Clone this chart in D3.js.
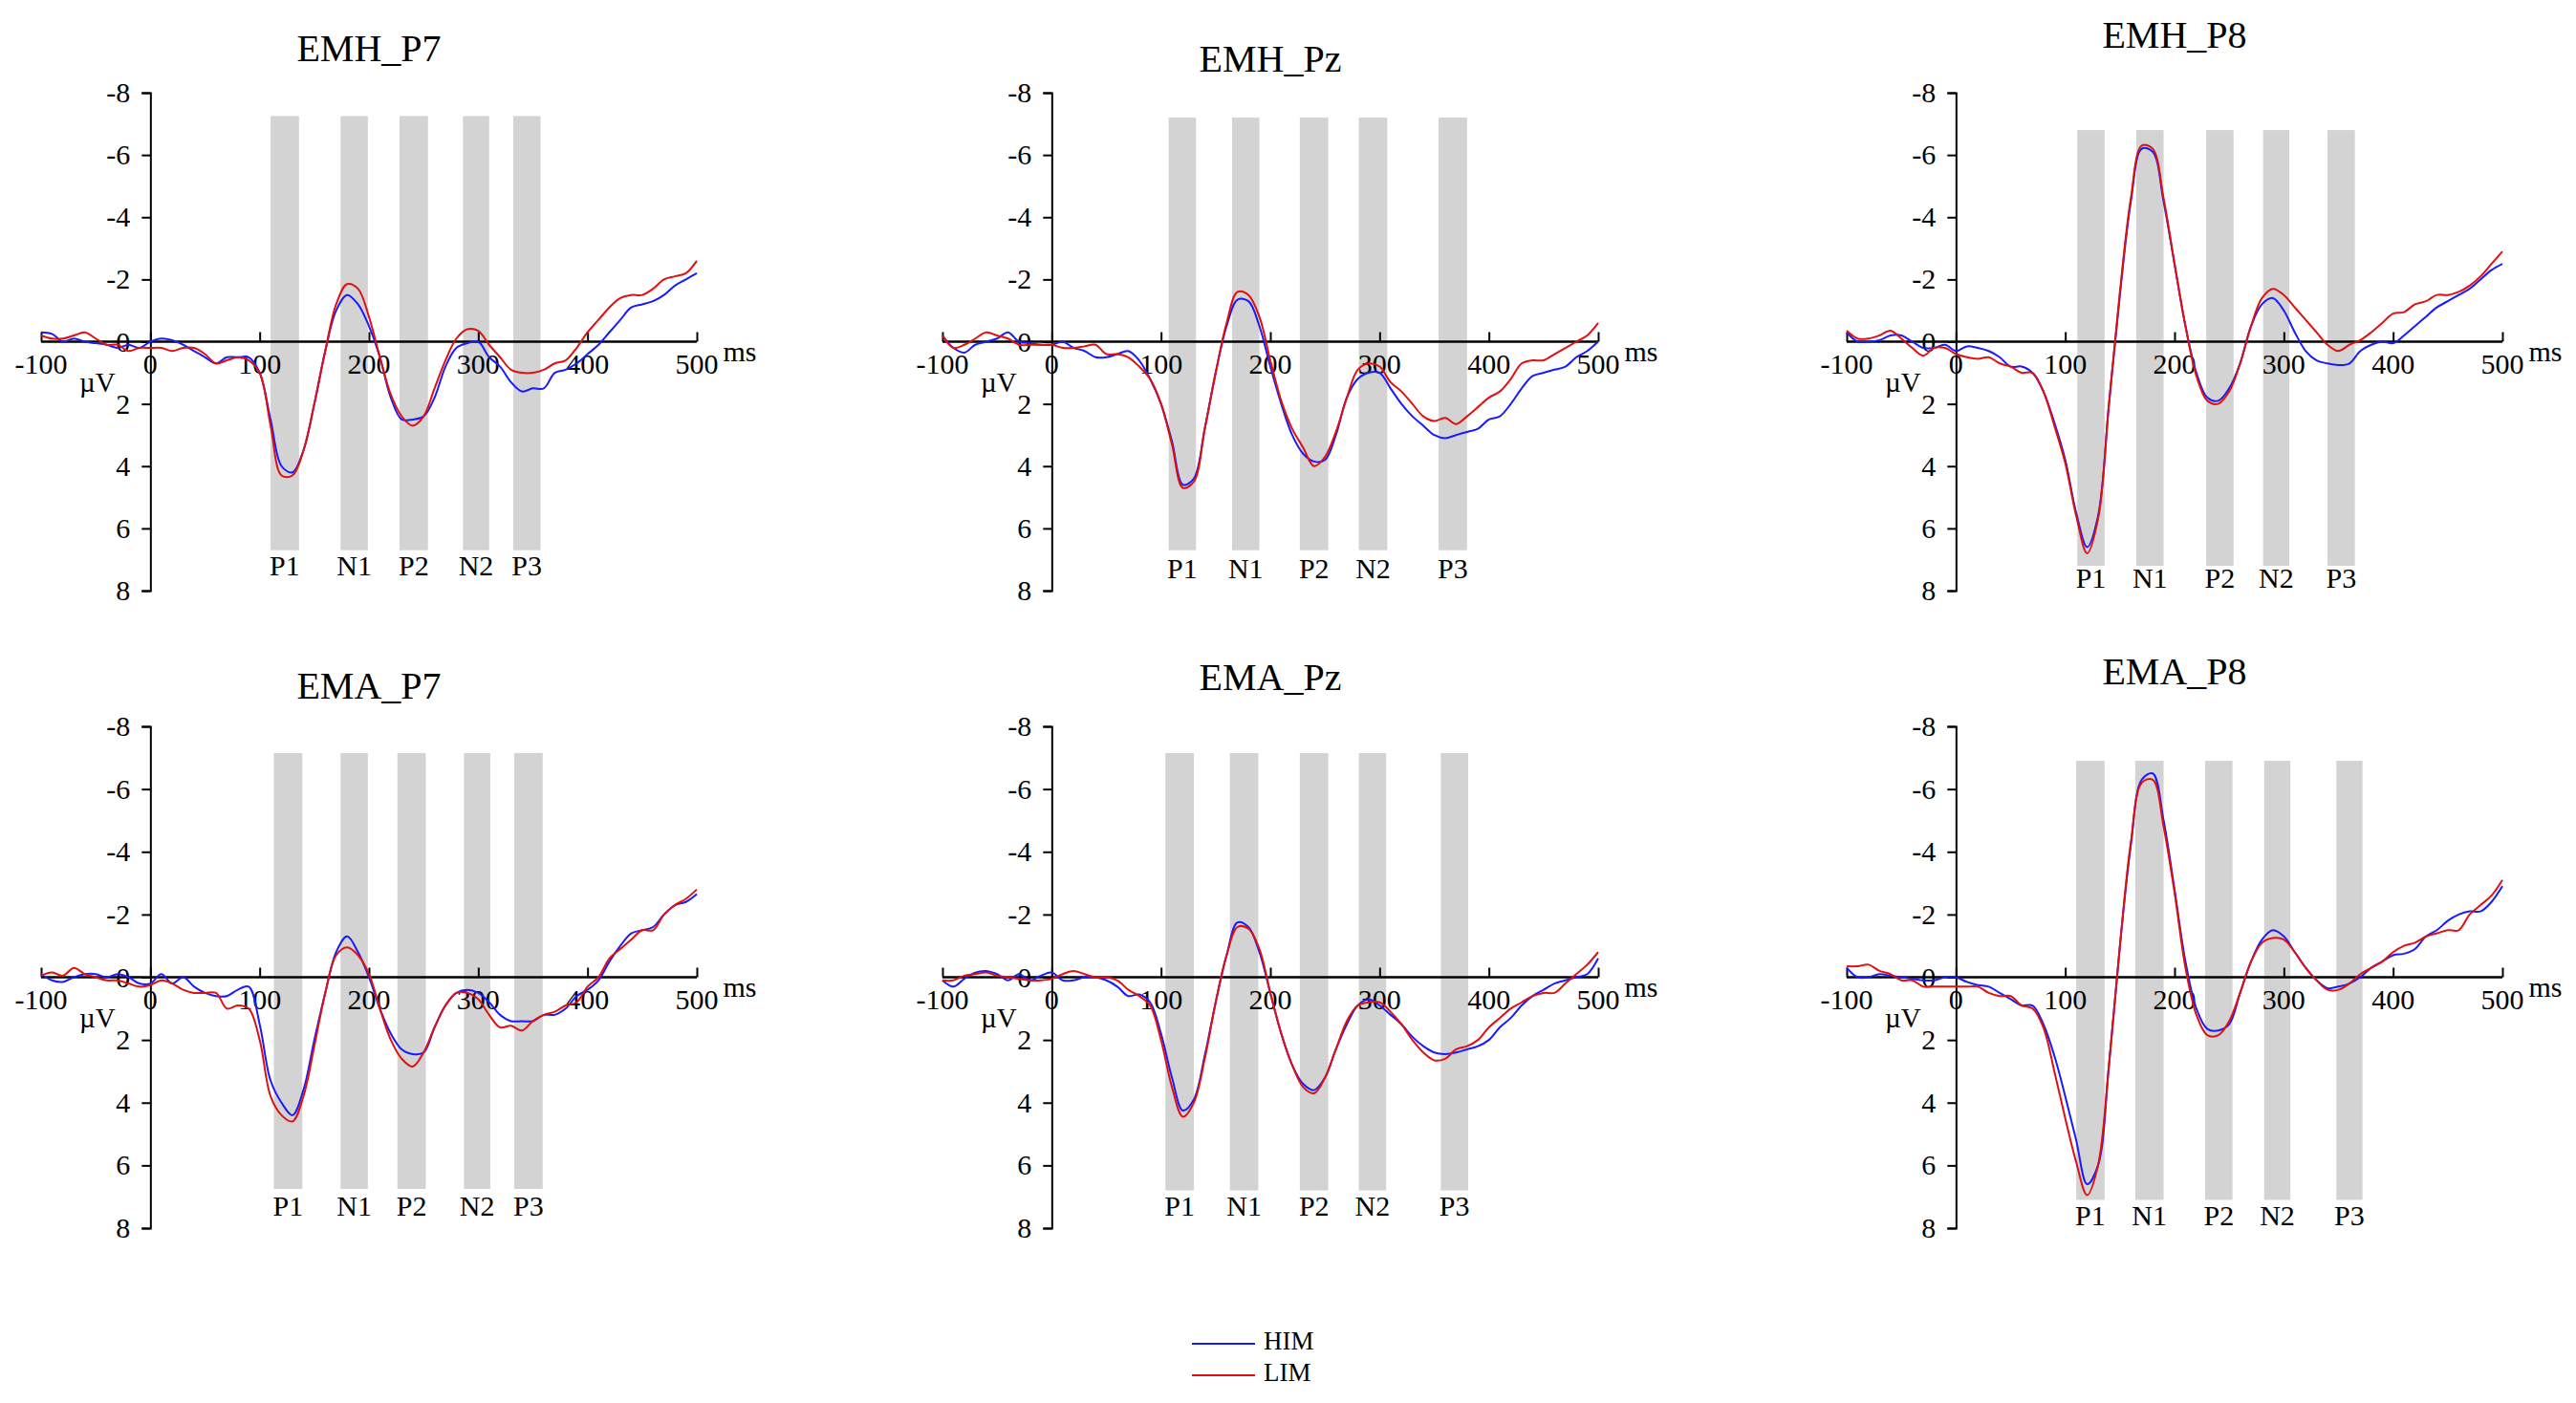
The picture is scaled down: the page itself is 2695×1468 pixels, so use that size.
<!doctype html>
<html>
<head>
<meta charset="utf-8">
<script src="https://cdn.jsdelivr.net/npm/d3@7"></script>
<style>
  body { margin: 0; background: #fff; }
  text { font-family: "Liberation Serif", "Times New Roman", serif; fill: #000; }
</style>
</head>
<body>
<div id="chart"></div>
<script>
// time axis: -100 .. 500 ms, every 10 ms
var times = d3.range(-100, 501, 10);
var components = ["P1", "N1", "P2", "N2", "P3"];
var yTicks = [-8, -6, -4, -2, 0, 2, 4, 6, 8];
var xTicks = [-100, 0, 100, 200, 300, 400, 500];
var panelNames = ["EMH_P7", "EMH_Pz", "EMH_P8", "EMA_P7", "EMA_Pz", "EMA_P8"];

// amplitude in µV (positive plotted downward)
var himEMH_P7 = [-0.3,-0.25,0.0,-0.1,0,0.05,0.1,0.2,0.1,0.2,
  0,-0.1,-0.05,0.1,0.3,0.5,0.7,0.5,0.5,0.5,
  1.0,2.5,4.0,4.2,3.5,2.0,0.3,-1.0,-1.5,-1.2,
  -0.5,0.5,1.8,2.5,2.5,2.4,1.8,0.8,0.2,0.05,
  0.0,0.5,0.8,1.3,1.6,1.5,1.5,1.0,0.9,0.7,
  0.4,0.1,-0.3,-0.7,-1.1,-1.2,-1.3,-1.5,-1.8,-2.0,-2.2];
var limEMH_P7 = [-0.2,-0.1,-0.1,-0.2,-0.3,-0.1,0.1,0.1,0.3,0.2,
  0.2,0.2,0.3,0.2,0.2,0.4,0.7,0.6,0.5,0.6,
  1.0,2.7,4.3,4.3,3.5,2.0,0.3,-1.2,-1.85,-1.7,
  -0.8,0.5,1.7,2.4,2.7,2.4,1.5,0.6,-0.1,-0.4,
  -0.35,0.1,0.5,0.9,1.0,1.0,0.9,0.7,0.6,0.2,
  -0.3,-0.7,-1.1,-1.4,-1.5,-1.5,-1.7,-2.0,-2.1,-2.2,-2.6];
var himEMH_Pz = [-0.2,0.2,0.35,0.1,0,-0.1,-0.3,0,0.05,0.1,
  0.1,0.0,0.2,0.3,0.5,0.5,0.4,0.3,0.6,1.2,
  2.0,3.2,4.6,4.4,2.8,1.0,-0.5,-1.35,-1.3,-0.5,
  0.8,2.0,3.0,3.6,3.85,3.8,3.0,1.8,1.2,1.0,
  1.0,1.5,2.0,2.4,2.7,3.0,3.1,3.0,2.9,2.8,
  2.5,2.4,2.0,1.5,1.1,1.0,0.9,0.8,0.5,0.3,0.0];
var limEMH_Pz = [-0.2,0.2,0.1,-0.1,-0.3,-0.2,-0.1,0.1,0.1,0.1,
  0.1,0.2,0.2,0.15,0.1,0.4,0.4,0.5,0.8,1.2,
  2.0,3.3,4.7,4.5,2.8,1.0,-0.6,-1.6,-1.5,-0.8,
  0.6,1.9,2.8,3.4,4.0,3.7,2.9,1.8,0.9,0.7,
  0.8,1.3,1.6,2.0,2.4,2.55,2.45,2.65,2.4,2.1,
  1.8,1.6,1.2,0.7,0.6,0.6,0.4,0.2,0.0,-0.2,-0.6];
var himEMH_P8 = [-0.3,0.0,0.0,-0.05,-0.2,-0.2,0.0,0.2,0.2,0.1,
  0.3,0.15,0.2,0.3,0.5,0.8,0.8,1.0,1.6,2.6,
  3.8,5.5,6.6,5.6,2.0,-1.5,-4.5,-6.2,-6.1,-4.5,
  -2.5,-0.5,1.0,1.8,1.9,1.5,0.7,-0.5,-1.2,-1.4,
  -1.0,-0.3,0.3,0.6,0.7,0.75,0.7,0.3,0.1,0.0,
  0.05,-0.2,-0.5,-0.8,-1.1,-1.3,-1.5,-1.7,-2.0,-2.3,-2.5];
var limEMH_P8 = [-0.35,-0.1,-0.1,-0.2,-0.35,-0.1,0.2,0.45,0.2,0.2,
  0.4,0.5,0.55,0.5,0.7,0.8,1.0,1.0,1.6,2.7,
  3.9,5.6,6.8,5.7,2.0,-1.6,-4.6,-6.3,-6.2,-4.6,
  -2.5,-0.5,1.1,1.9,2.0,1.6,0.7,-0.5,-1.4,-1.7,
  -1.5,-1.1,-0.7,-0.3,0.1,0.3,0.1,-0.05,-0.3,-0.6,
  -0.9,-0.95,-1.2,-1.3,-1.5,-1.5,-1.6,-1.8,-2.1,-2.5,-2.9];
var himEMA_P7 = [-0.1,0.1,0.15,0.0,-0.1,-0.1,0.0,-0.1,0.0,0.2,
  0.2,-0.1,0.2,0.0,0.3,0.5,0.6,0.6,0.4,0.3,
  1.5,3.3,4.0,4.4,3.6,2.0,0.5,-0.8,-1.3,-0.8,
  0.0,1.0,1.8,2.3,2.45,2.4,1.6,0.9,0.5,0.4,
  0.5,0.8,1.2,1.4,1.4,1.4,1.2,1.2,1.0,0.6,
  0.4,0.1,-0.5,-1.0,-1.4,-1.5,-1.6,-2.0,-2.3,-2.4,-2.65];
var limEMA_P7 = [-0.05,-0.15,-0.05,-0.3,-0.1,0.0,0.1,0.1,0.2,0.3,
  0.25,0.1,0.2,0.4,0.5,0.5,0.5,1.0,0.9,1.0,
  2.0,3.8,4.4,4.6,3.8,2.2,0.5,-0.7,-0.95,-0.7,
  -0.1,1.0,2.0,2.6,2.85,2.4,1.6,0.9,0.5,0.5,
  0.7,1.2,1.6,1.55,1.7,1.4,1.2,1.1,0.9,0.8,
  0.3,0.0,-0.6,-0.9,-1.2,-1.5,-1.5,-2.0,-2.3,-2.5,-2.8];
var himEMA_Pz = [0.1,0.3,0.05,-0.15,-0.2,-0.1,0.1,-0.1,0.1,-0.05,
  -0.15,0.1,0.1,0.0,0.0,0.1,0.3,0.6,0.55,0.8,
  1.8,3.2,4.25,3.9,2.5,0.8,-0.7,-1.75,-1.6,-0.8,
  0.5,1.8,2.8,3.4,3.6,3.2,2.3,1.5,0.9,0.7,
  0.9,1.2,1.5,1.9,2.2,2.4,2.45,2.4,2.3,2.2,
  2.0,1.6,1.3,0.9,0.6,0.4,0.2,0.1,0.0,-0.1,-0.6];
var limEMA_Pz = [0.1,0.1,-0.05,-0.1,-0.15,-0.05,0.0,0.05,0.1,0.1,
  0.05,-0.1,-0.2,-0.1,0.0,0.0,0.1,0.4,0.6,0.9,
  2.0,3.5,4.45,4.0,2.6,0.8,-0.7,-1.6,-1.55,-0.9,
  0.5,1.8,2.8,3.5,3.7,3.2,2.3,1.4,0.9,0.8,
  0.8,1.1,1.5,2.0,2.4,2.65,2.6,2.3,2.2,2.0,
  1.6,1.3,1.0,0.8,0.6,0.5,0.5,0.2,-0.1,-0.4,-0.8];
var himEMA_P8 = [-0.3,0.0,0.0,-0.1,-0.05,0.0,0.05,0.1,0.1,0.0,
  0.0,0.15,0.25,0.3,0.5,0.7,0.9,0.9,1.5,2.5,
  3.8,5.2,6.6,6.0,2.8,-1.0,-4.2,-6.3,-6.5,-5.0,
  -2.8,-0.5,1.0,1.65,1.7,1.5,0.5,-0.5,-1.2,-1.5,
  -1.3,-0.8,-0.3,0.1,0.35,0.3,0.2,0.0,-0.3,-0.5,
  -0.7,-0.75,-0.9,-1.3,-1.5,-1.8,-2.0,-2.1,-2.1,-2.4,-2.9];
var limEMA_P8 = [-0.35,-0.35,-0.4,-0.2,-0.1,0.1,0.1,0.3,0.3,0.3,
  0.3,0.3,0.3,0.5,0.6,0.6,0.9,1.0,1.6,3.0,
  4.5,5.9,6.95,6.0,2.8,-1.0,-4.3,-6.2,-6.3,-4.8,
  -2.7,-0.3,1.2,1.85,1.85,1.4,0.5,-0.5,-1.1,-1.25,
  -1.2,-0.8,-0.3,0.1,0.4,0.4,0.2,-0.1,-0.3,-0.5,
  -0.8,-1.0,-1.1,-1.3,-1.4,-1.5,-1.5,-2.0,-2.3,-2.6,-3.1];

var himSeries = [himEMH_P7, himEMH_Pz, himEMH_P8, himEMA_P7, himEMA_Pz, himEMA_P8];
var limSeries = [limEMH_P7, limEMH_Pz, limEMH_P8, limEMA_P7, limEMA_Pz, limEMA_P8];

// component windows [start, end] in ms, per panel
var windowsEMH_P7 = [[110,136],[174,199],[228,254],[286,310],[332,357]];
var windowsEMH_Pz = [[107,132],[165,190],[227,253],[281,307],[354,380]];
var windowsEMH_P8 = [[111,136],[165,190],[229,254],[281,305],[340,365]];
var windowsEMA_P7 = [[113,139],[174,199],[226,252],[287,311],[333,359]];
var windowsEMA_Pz = [[104,130],[163,189],[227,253],[281,306],[356,381]];
var windowsEMA_P8 = [[110,136],[164,190],[228,253],[282,306],[348,372]];
var windows = [windowsEMH_P7, windowsEMH_Pz, windowsEMH_P8, windowsEMA_P7, windowsEMA_Pz, windowsEMA_P8];
// shaded band top / bottom (µV) and label level per panel
var bandTop = [-7.25, -7.2, -6.8, -7.15, -7.15, -6.9];
var bandBottom = [6.7, 6.7, 7.2, 6.75, 6.8, 7.1];
var labelLevel = [7.3, 7.4, 7.7, 7.4, 7.4, 7.7];
var titleY = [55, 66, 41, 722, 713, 707];

var W = 2695, H = 1468;
var svg = d3.select("#chart").append("svg").attr("width", W).attr("height", H);

var colX = [43, 986, 1932];
var colW = 686;
var rowY = [[97, 618], [760, 1285]];

panelNames.forEach(function(name, i) {
  var c = i % 3, r = Math.floor(i / 3);
  var x = d3.scaleLinear().domain([-100, 500]).range([colX[c], colX[c] + colW]);
  var y = d3.scaleLinear().domain([-8, 8]).range(rowY[r]);
  var g = svg.append("g");

  g.selectAll("rect.band").data(windows[i]).enter().append("rect")
    .attr("x", function(d) { return x(d[0]); })
    .attr("width", function(d) { return x(d[1]) - x(d[0]); })
    .attr("y", y(bandTop[i]))
    .attr("height", y(bandBottom[i]) - y(bandTop[i]))
    .attr("fill", "#d3d3d3");

  g.selectAll("text.comp").data(windows[i]).enter().append("text")
    .attr("x", function(d) { return x((d[0] + d[1]) / 2); })
    .attr("y", y(labelLevel[i]))
    .attr("text-anchor", "middle").attr("dominant-baseline", "middle")
    .attr("font-size", 30)
    .text(function(d, k) { return components[k]; });

  // y axis
  var ya = g.append("g").attr("transform", "translate(" + x(0) + ",0)")
    .call(d3.axisLeft(y).tickValues(yTicks).tickSize(9).tickPadding(12)
      .tickFormat(function(d) { return String(d); }));
  ya.selectAll("text").attr("font-size", 30).style("font-family", "Liberation Serif");
  ya.select(".domain").attr("stroke-width", 2);
  ya.selectAll(".tick line").attr("stroke-width", 2);

  // x axis at 0 µV
  var xa = g.append("g").attr("transform", "translate(0," + y(0) + ")")
    .call(d3.axisTop(x).tickValues(xTicks).tickSize(10).tickFormat(""));
  xa.select(".domain").attr("stroke-width", 2.5).attr("d", "M" + x(-100) + ",0H" + x(500));
  xa.selectAll(".tick line").attr("stroke-width", 2);
  g.selectAll("text.xt").data(xTicks).enter().append("text")
    .attr("x", function(d) { return x(d); })
    .attr("y", y(0) + 33)
    .attr("text-anchor", "middle").attr("font-size", 30)
    .text(function(d) { return String(d); });
  g.append("text").attr("x", x(524)).attr("y", y(0) + 20)
    .attr("font-size", 30).text("ms");
  g.append("text").attr("x", x(-65)).attr("y", y(0) + 52)
    .attr("font-size", 29).text("µV");

  var line = d3.line()
    .x(function(d, k) { return x(times[k]); })
    .y(function(d) { return y(d); })
    .curve(d3.curveCatmullRom.alpha(0.5));
  g.append("path").datum(himSeries[i]).attr("d", line)
    .attr("fill", "none").attr("stroke", "#1a1aff").attr("stroke-width", 2);
  g.append("path").datum(limSeries[i]).attr("d", line)
    .attr("fill", "none").attr("stroke", "#e01010").attr("stroke-width", 2);

  g.append("text").attr("x", x(200)).attr("y", titleY[i])
    .attr("text-anchor", "middle").attr("dominant-baseline", "middle")
    .attr("font-size", 40).text(name);
});

// legend
var legendNames = ["HIM", "LIM"];
var legendColors = ["#1a1aff", "#e01010"];
var lg = svg.append("g").attr("transform", "translate(1247,1406)");
legendNames.forEach(function(n, k) {
  lg.append("line").attr("x1", 0).attr("x2", 66).attr("y1", k * 33).attr("y2", k * 33)
    .attr("stroke", legendColors[k]).attr("stroke-width", 2);
  lg.append("text").attr("x", 75).attr("y", k * 33).attr("dominant-baseline", "middle")
    .attr("font-size", 27).text(n);
});
</script>
</body>
</html>
